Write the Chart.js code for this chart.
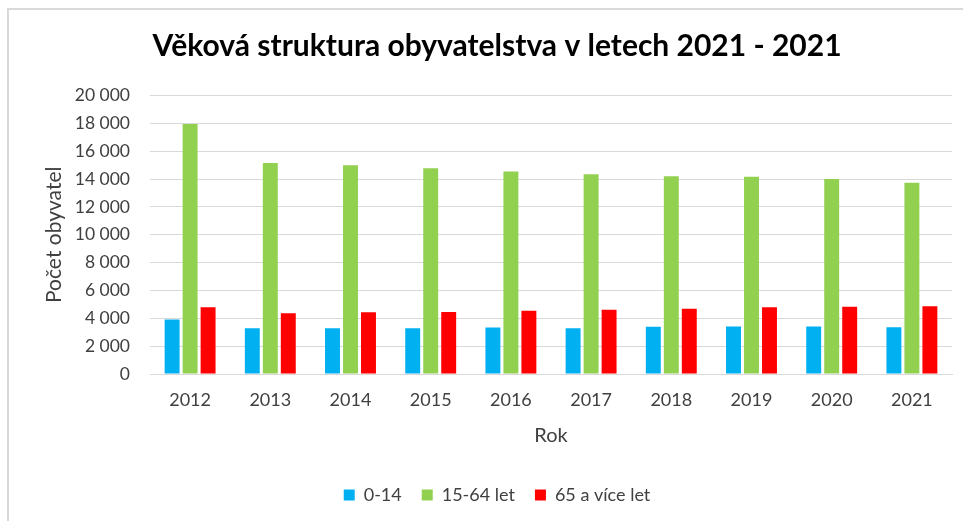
<!DOCTYPE html>
<html>
<head>
<meta charset="utf-8">
<script src="https://cdn.jsdelivr.net/npm/chart.js@4"></script>
<style>
  html, body { margin: 0; padding: 0; background: #fff; }
  #frame { position: absolute; left: 7px; top: 8px; width: 1000px; height: 600px;
           border-left: 2px solid #d9d9d9; border-top: 2px solid #d9d9d9; }
  #wrap { position: absolute; left: 0; top: 0; width: 963px; height: 521px; }
</style>
</head>
<body>
<div id="frame"></div>
<div id="wrap"><canvas id="c" width="963" height="521"></canvas></div>
<script>
const categories = ['2012','2013','2014','2015','2016','2017','2018','2019','2020','2021'];
const seriesNames = ['0-14', '15-64 let', '65 a více let'];
const age0to14 = [3910, 3290, 3290, 3290, 3340, 3290, 3390, 3410, 3410, 3360];
const age15to64 = [17960, 15150, 14990, 14770, 14550, 14340, 14210, 14170, 14000, 13730];
const age65plus = [4800, 4370, 4440, 4460, 4540, 4610, 4680, 4800, 4830, 4870];
const yTicks = [0, 2000, 4000, 6000, 8000, 10000, 12000, 14000, 16000, 18000, 20000];
const colors = ['#00B0F0', '#92D050', '#FF0000'];

const fmt = v => String(v).replace(/\B(?=(\d{3})+(?!\d))/g, ' ');
const FONT = 'Lato, "Open Sans", sans-serif';

new Chart(document.getElementById('c'), {
  type: 'bar',
  data: {
    labels: categories,
    datasets: [age0to14, age15to64, age65plus].map((d, i) => ({
      label: seriesNames[i],
      data: d,
      backgroundColor: colors[i],
      borderWidth: 0,
      barPercentage: 0.83,
      categoryPercentage: 0.673
    }))
  },
  options: {
    responsive: false,
    animation: false,
    devicePixelRatio: 1,
    layout: { padding: { left: 42, right: 11, top: 0, bottom: 7 } },
    plugins: {
      title: {
        display: true,
        text: 'Věková struktura obyvatelstva v letech 2021 - 2021',
        color: '#000',
        font: { family: FONT, size: 30, weight: 'bold' },
        padding: { top: 28.5, bottom: 31 }
      },
      legend: {
        position: 'bottom',
        labels: {
          color: '#404040',
          font: { family: FONT, size: 18 },
          boxWidth: 11, boxHeight: 11,
          padding: 20
        }
      },
      tooltip: { enabled: false }
    },
    scales: {
      x: {
        afterFit: s => { s.height = 92; },
        grid: { display: false, drawTicks: false },
        border: { display: true, color: '#d9d9d9', width: 1 },
        ticks: { color: '#404040', font: { family: FONT, size: 18 }, padding: 15 },
        title: { display: true, text: 'Rok', color: '#404040',
                 font: { family: FONT, size: 20 }, padding: { top: 0, bottom: 18 } }
      },
      y: {
        min: 0, max: 20000,
        afterBuildTicks: s => { s.ticks = yTicks.map(v => ({ value: v })); },
        afterFit: s => { s.width = 108; },
        grid: { color: '#d9d9d9', lineWidth: 1, drawTicks: false },
        border: { display: false },
        ticks: { color: '#404040', font: { family: FONT, size: 17.5 }, padding: 20,
                 callback: v => fmt(v) },
        title: { display: true, text: 'Počet obyvatel', color: '#404040',
                 font: { family: FONT, size: 21 }, padding: { top: 0, bottom: 0 } }
      }
    }
  }
});
</script>
</body>
</html>
